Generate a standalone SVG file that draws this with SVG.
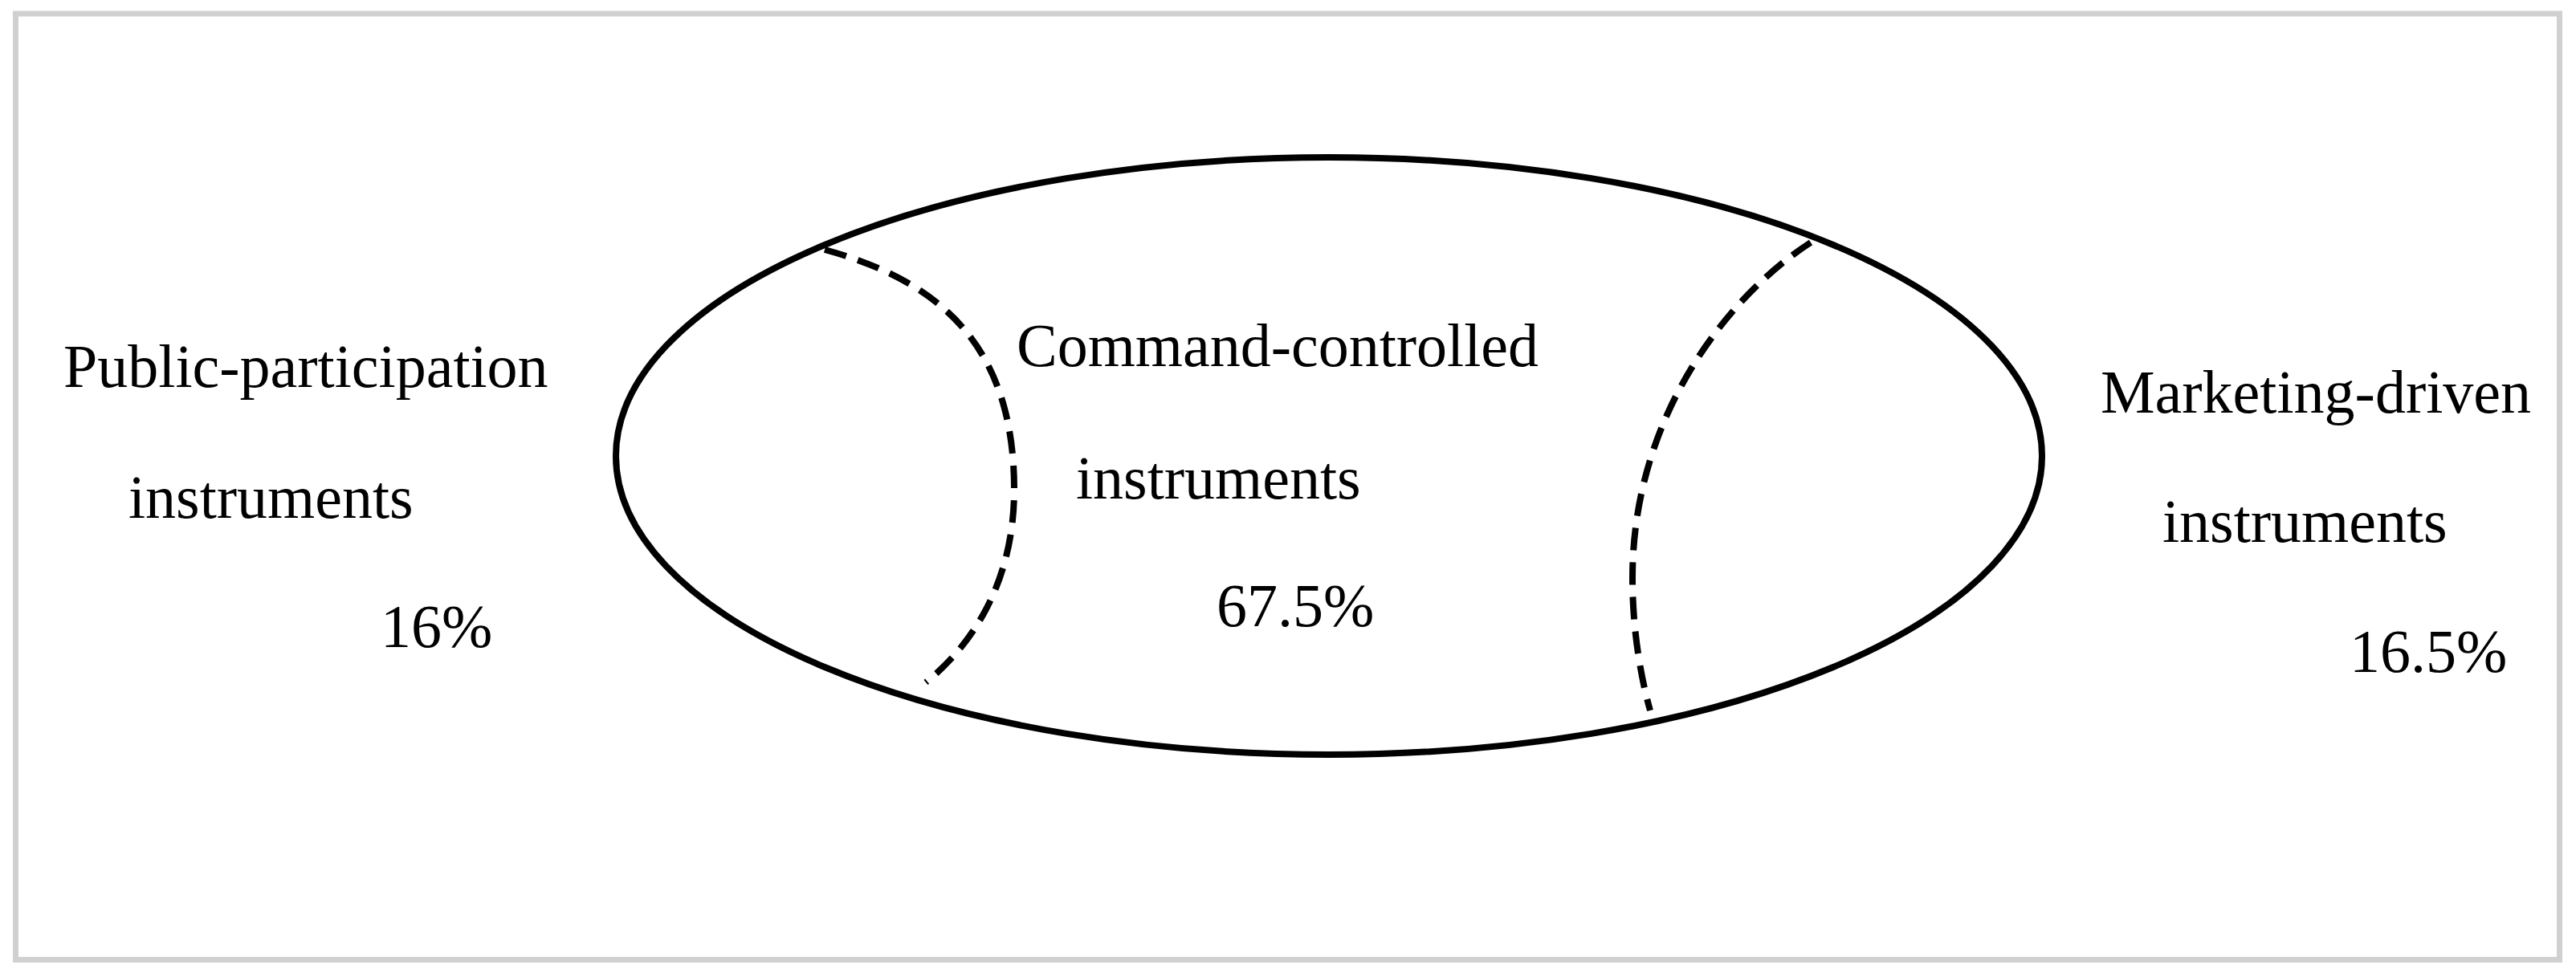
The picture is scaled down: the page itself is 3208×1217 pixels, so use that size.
<svg xmlns="http://www.w3.org/2000/svg" width="3208" height="1217" viewBox="0 0 3208 1217">
  <style>
    .lbl { font-family: "Liberation Serif", "Times New Roman", serif; font-size: 76px; fill: #000; }
    .outline { fill: none; stroke: #000; stroke-width: 8; }
    .divider { fill: none; stroke: #000; stroke-width: 8; stroke-dasharray: 28 15; }
  </style>
  <rect x="0" y="0" width="3208" height="1217" fill="#fff"/>
  <rect x="19.5" y="17" width="3168" height="1178.5" fill="none" stroke="#d0d0d0" stroke-width="7"/>

  <g id="ellipse">
    <ellipse class="outline" cx="1655" cy="568" rx="888" ry="372"/>
  </g>

  <g id="connectors">
    <path class="divider" d="M1027,311 C1170,350 1263,430 1263,610 C1263,720 1215,800 1153,850"/>
    <path class="divider" d="M2255,302 C2150,370 2033,520 2033,720 C2033,790 2045,850 2055,885"/>
  </g>

  <g id="public-participation">
    <text class="lbl" x="79" y="482">Public-participation</text>
    <text class="lbl" x="160" y="645">instruments</text>
    <text class="lbl" x="474" y="806">16%</text>
  </g>

  <g id="command-controlled">
    <text class="lbl" x="1266" y="456">Command-controlled</text>
    <text class="lbl" x="1340" y="621">instruments</text>
    <text class="lbl" x="1515" y="780">67.5%</text>
  </g>

  <g id="marketing-driven">
    <text class="lbl" x="2616" y="514">Marketing-driven</text>
    <text class="lbl" x="2693" y="675">instruments</text>
    <text class="lbl" x="2926" y="837">16.5%</text>
  </g>
</svg>
